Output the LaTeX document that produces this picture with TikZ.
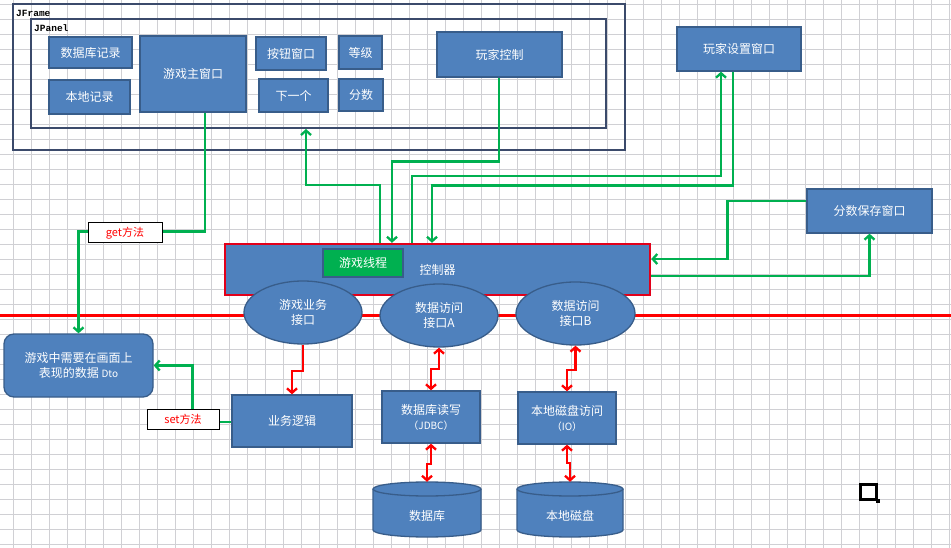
\documentclass[tikz,border=0pt]{standalone}
\usepackage{fontspec}
\usetikzlibrary{arrows.meta,shapes.geometric}
\newfontfamily\cjk{Noto Sans CJK SC}
\newfontfamily\monof{Liberation Mono}
\definecolor{boxblue}{HTML}{4F81BD}
\definecolor{boxedge}{HTML}{385D8A}
\definecolor{navy}{HTML}{3B4A6B}
\definecolor{lgreen}{HTML}{00B050}
\definecolor{lred}{HTML}{FF0000}
\definecolor{ctrlred}{HTML}{E2001A}
\definecolor{gridc}{HTML}{D0D0D4}
\tikzset{
  gridline/.style={draw=gridc, line width=0.8pt},
  cjkfont/.style={font=\cjk\fontsize{12}{15}\selectfont},
  bbox/.style={draw=boxedge, fill=boxblue, line width=1.3pt, text=white, cjkfont, inner sep=0pt, align=center},
  ebox/.style={ellipse, bbox},
  frm/.style={draw=navy, line width=2.2pt, inner sep=0pt},
  frmlabel/.style={font=\monof\bfseries\fontsize{9.5}{11}\selectfont, anchor=base west, inner sep=0pt},
  methodlbl/.style={draw=black, fill=white, line width=1pt, text=lred, font=\cjk\fontsize{11}{13}\selectfont, inner sep=0pt},
  gar/.style={draw=lgreen, line width=2.3pt, -{Straight Barb[length=4.5pt,width=10pt]}},
  rar/.style={draw=lred, line width=2.3pt, -{Straight Barb[length=4.5pt,width=10pt]}},
  rdar/.style={draw=lred, line width=2.3pt, {Straight Barb[length=4.5pt,width=10pt]}-{Straight Barb[length=4.5pt,width=10pt]}},
  sepline/.style={draw=lred, line width=2.2pt},
  cylfill/.style={fill=boxblue},
  cyledge/.style={draw=boxedge, line width=1.3pt},
  hidden/.style={inner sep=0pt, minimum width=108pt, minimum height=55pt}
}
\begin{document}
\begin{tikzpicture}[x=1pt, y=-1pt]
\useasboundingbox (0,0) rectangle (951,548);
\fill[white] (0,0) rectangle (951,548);
% grid
\foreach \k in {0,...,52} {\draw[gridline] ({13.5+18*\k},0) -- ({13.5+18*\k},548);}
\foreach \k in {0,...,36} {\draw[gridline] (0,{4.3+15*\k}) -- (951,{4.3+15*\k});}
% separator line
\coordinate (sepL) at (0,315.5);
\coordinate (sepR) at (951,315.5);
\draw[sepline] (sepL) -- (sepR);
% frames
\node[frm, minimum width=612pt, minimum height=146pt] (frame) at (319,77) {};
\node[frmlabel] (framelbl) at (16,16.5) {JFrame};
\node[frm, minimum width=575pt, minimum height=109pt] (panel) at (318.5,73.5) {};
\node[frmlabel] (panellbl) at (34,31.5) {JPanel};
% boxes in panel
\node[bbox, minimum width=83pt, minimum height=31pt] (dbrec) at (90.5,52.5) {数据库记录};
\node[bbox, minimum width=81pt, minimum height=34pt] (localrec) at (89.5,97) {本地记录};
\node[bbox, minimum width=106pt, minimum height=76pt] (mainwin) at (193,74) {游戏主窗口};
\node[bbox, minimum width=70pt, minimum height=33pt] (btnwin) at (291,53.5) {按钮窗口};
\node[bbox, minimum width=69pt, minimum height=33pt] (nextp) at (293.5,95.5) {下一个};
\node[bbox, minimum width=43pt, minimum height=33pt] (level) at (360.5,52.5) {等级};
\node[bbox, minimum width=44pt, minimum height=32pt] (score) at (361,95) {分数};
\node[bbox, minimum width=125pt, minimum height=45pt] (playerctl) at (499.5,54.5) {玩家控制};
% right windows
\node[bbox, minimum width=124pt, minimum height=44pt] (playerset) at (739,49) {玩家设置窗口};
\node[bbox, minimum width=125pt, minimum height=44pt] (scoresave) at (869.5,211) {分数保存窗口};
% controller
\node[bbox, draw=ctrlred, line width=2.4pt, minimum width=425pt, minimum height=51pt] (ctrl) at (437.5,269.5) {控制器};
\node[bbox, fill=lgreen, minimum width=80pt, minimum height=28pt] (thread) at (363,263) {游戏线程};
% interfaces
\node[ebox, minimum width=118pt, minimum height=63pt] (ell1) at (303,312.5) {游戏业务\\接口};
\node[ebox, minimum width=118pt, minimum height=63pt] (ell2) at (439,315.5) {数据访问\\接口A};
\node[ebox, minimum width=119pt, minimum height=63pt] (ell3) at (575.5,313.5) {数据访问\\接口B};
% lower boxes
\node[bbox, rounded corners=10pt, minimum width=149pt, minimum height=63pt] (dto) at (78.5,365.5) {游戏中需要在画面上\\表现的数据 {\fontsize{10}{12}\selectfont Dto}};
\node[bbox, minimum width=120pt, minimum height=52pt] (logic) at (292,421) {业务逻辑};
\node[bbox, minimum width=98pt, minimum height=52pt] (jdbc) at (431,417) {数据库读写\\{\fontsize{10}{13}\selectfont （JDBC）}};
\node[bbox, minimum width=98pt, minimum height=52pt] (io) at (567,418) {本地磁盘访问\\{\fontsize{10}{13}\selectfont （IO）}};
% cylinders
\fill[cylfill] (373,489) -- (373,530) arc[start angle=180, end angle=360, x radius=54pt, y radius=7pt] -- (481,489) -- cycle;
\draw[cyledge] (373,489) -- (373,530) arc[start angle=180, end angle=360, x radius=54pt, y radius=7pt] -- (481,489);
\filldraw[cylfill, cyledge] (427,489) ellipse[x radius=54pt, y radius=7pt];
\node[hidden] (db) at (427,509.5) {};
\node[cjkfont, text=white] (dbtxt) at (427,516) {数据库};
\fill[cylfill] (517,489) -- (517,530) arc[start angle=180, end angle=360, x radius=53pt, y radius=7pt] -- (623,489) -- cycle;
\draw[cyledge] (517,489) -- (517,530) arc[start angle=180, end angle=360, x radius=53pt, y radius=7pt] -- (623,489);
\filldraw[cylfill, cyledge] (570,489) ellipse[x radius=53pt, y radius=7pt];
\node[hidden, minimum width=106pt] (disk) at (570,509.5) {};
\node[cjkfont, text=white] (disktxt) at (570,516) {本地磁盘};
% green connectors
\coordinate (nexttip) at (306,129);
\draw[gar] ([xshift=12pt]mainwin.south) -- ++(0,119) -| (dto.north);
\draw[gar] ([xshift=-57.5pt]ctrl.north) -- ++(0,-58) -| (nexttip);
\draw[gar] ([xshift=-0.5pt]playerctl.south) -- ++(0,84) -| ([xshift=-45.5pt]ctrl.north);
\draw[gar] ([xshift=-25.5pt]ctrl.north) -- ++(0,-67) -| ([xshift=-18pt]playerset.south);
\draw[gar] ([xshift=-6pt]playerset.south) -- ++(0,114) -| ([xshift=-5.5pt]ctrl.north);
\draw[gar] ([yshift=10pt]scoresave.west) -- ++(-79,0) |- ([yshift=10.5pt]ctrl.east);
\draw[gar] ([yshift=-6.5pt]ctrl.east) -| (scoresave.south);
\draw[gar] ([yshift=-1pt]logic.west) -- ++(-39,0) |- (dto.east);
% method labels
\node[methodlbl, minimum width=74pt, minimum height=20pt] (getlbl) at (125,233) {get方法};
\node[methodlbl, minimum width=72pt, minimum height=20pt] (setlbl) at (183,419) {set方法};
% red connectors
\draw[rar] (ell1.south) -- ++(0,26) -| (logic.north);
\draw[rdar] (ell2.south) -- ++(0,21) -| (jdbc.north);
\draw[rdar] (ell3.south) -- ++(0,24) -| (io.north);
\draw[rdar] (jdbc.south) -- ++(0,20) -| (db.north);
\draw[rdar] (io.south) -- ++(0,18) -| (disk.north);
% selection marker
\node[draw=black, line width=3pt, minimum width=16pt, minimum height=15pt, inner sep=0pt] (sel) at (868,491.5) {};
\node[fill=black, minimum size=4pt, inner sep=0pt] (selh) at (sel.south east) {};
\end{tikzpicture}
\end{document}
